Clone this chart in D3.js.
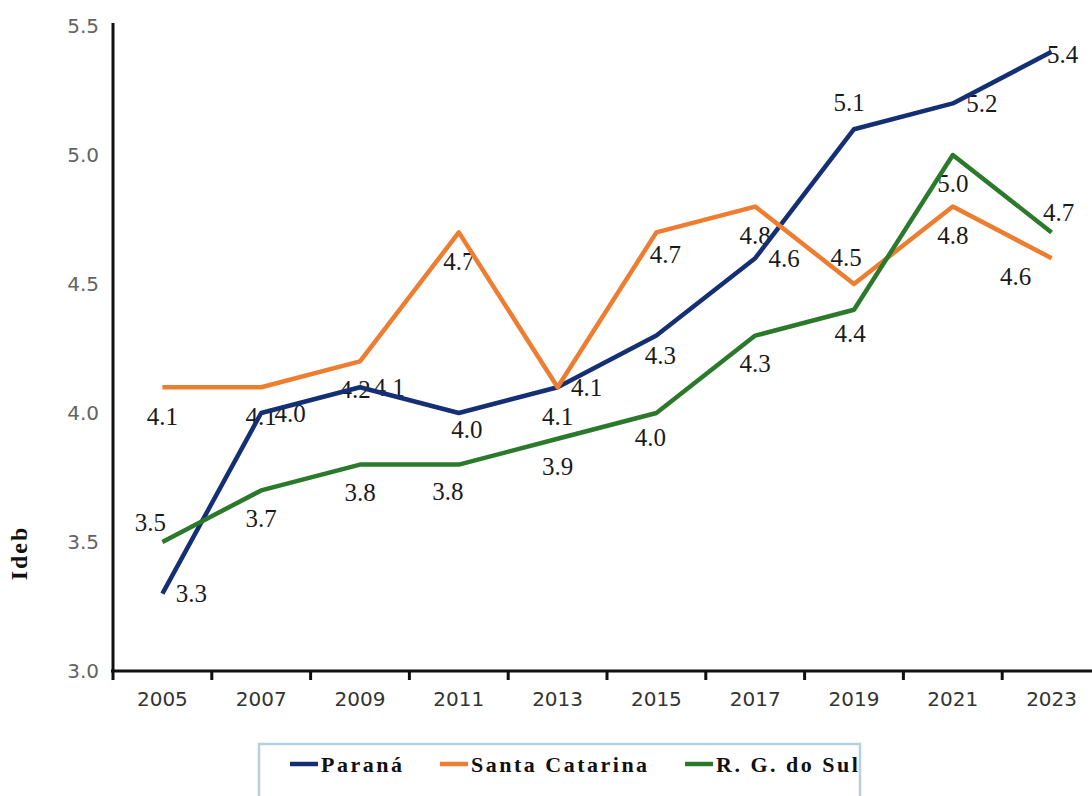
<!DOCTYPE html>
<html>
<head>
<meta charset="utf-8">
<script src="https://cdn.jsdelivr.net/npm/d3@7"></script>
<style>
  body { margin: 0; background: #fff; }
  svg { display: block; }
  .serif { font-family: "Liberation Serif", "Times New Roman", Times, serif; }
  .sans { font-family: "DejaVu Sans", Verdana, sans-serif; }
</style>
</head>
<body>
<svg id="chart" width="1092" height="796"></svg>
<script>
// Ideb by state, 2005–2023
const years = ["2005", "2007", "2009", "2011", "2013", "2015", "2017", "2019", "2021", "2023"];
const parana = [3.3, 4.0, 4.1, 4.0, 4.1, 4.3, 4.6, 5.1, 5.2, 5.4];
const santaCatarina = [4.1, 4.1, 4.2, 4.7, 4.1, 4.7, 4.8, 4.5, 4.8, 4.6];
const rgDoSul = [3.5, 3.7, 3.8, 3.8, 3.9, 4.0, 4.3, 4.4, 5.0, 4.7];
const yTicks = [3.0, 3.5, 4.0, 4.5, 5.0, 5.5];
const seriesNames = ["Paraná", "Santa Catarina", "R. G. do Sul"];
const yTitle = "Ideb";

const colors = ["#142f74", "#ed7d31", "#2b7a2b"];

// default label placement per series (dx, dy from the point) and per-point adjustments
const labelDefault = [[29, 0], [0, 29], [0, 28]];
const labelNudge = {
  "0-2011": [8, 16], "0-2015": [4, 20], "0-2019": [-5, -27], "0-2023": [11, 3],
  "1-2015": [9, 22], "1-2019": [-8, -27], "1-2023": [-36, 18], "1-2009": [-5, 28],
  "2-2005": [-12, -20], "2-2011": [-11, 27], "2-2015": [-6, 24], "2-2019": [-4, 24], "2-2023": [7, -20]
};

const series = [parana, santaCatarina, rgDoSul].map((vals, i) => ({
  name: seriesNames[i],
  color: colors[i],
  points: vals.map((v, j) => ({ year: years[j], value: v }))
}));

const svg = d3.select("#chart");
const plotLeft = 113, plotRight = 1101, plotTop = 26, plotBottom = 671;

const x = d3.scaleBand().domain(years).range([plotLeft, plotRight]);
const y = d3.scaleLinear().domain([3.0, 5.5]).range([plotBottom, plotTop]);
const cx = d => x(d) + x.bandwidth() / 2;

// y axis
const yAxis = svg.append("g")
  .attr("transform", `translate(${plotLeft},0)`)
  .call(d3.axisLeft(y).tickValues(yTicks).tickSize(0).tickPadding(14).tickFormat(d3.format(".1f")));
yAxis.select(".domain").remove();
yAxis.selectAll("text")
  .attr("class", "sans")
  .attr("font-family", null)
  .attr("font-size", 20)
  .attr("fill", "#636363");
svg.append("line")
  .attr("x1", plotLeft).attr("x2", plotLeft)
  .attr("y1", plotTop - 3).attr("y2", plotBottom + 1)
  .attr("stroke", "#111").attr("stroke-width", 3);

// x axis
const xAxis = svg.append("g")
  .attr("transform", `translate(0,${plotBottom})`)
  .call(d3.axisBottom(x).tickSize(0).tickPadding(21));
xAxis.select(".domain").remove();
xAxis.attr("font-family", null);
xAxis.selectAll("text")
  .attr("class", "sans")
  .attr("font-size", 20)
  .attr("fill", "#333");
yAxis.attr("font-family", null);
svg.append("line")
  .attr("x1", plotLeft - 2).attr("x2", plotRight)
  .attr("y1", plotBottom).attr("y2", plotBottom)
  .attr("stroke", "#111").attr("stroke-width", 3);
svg.append("g").selectAll("line")
  .data(years.map(d => x(d)).concat([plotRight]))
  .join("line")
  .attr("x1", d => d).attr("x2", d => d)
  .attr("y1", plotBottom).attr("y2", plotBottom + 9)
  .attr("stroke", "#111").attr("stroke-width", 3);

// y title
svg.append("text")
  .attr("class", "serif")
  .attr("transform", `translate(27,553) rotate(-90)`)
  .attr("text-anchor", "middle")
  .attr("font-weight", "bold")
  .attr("font-size", 24)
  .attr("letter-spacing", 2)
  .attr("fill", "#111")
  .text(yTitle);

// data labels (drawn beneath the lines)
const labels = svg.append("g");
[1, 2, 0].forEach(i => {
  const s = series[i];
  labels.selectAll(null)
    .data(s.points)
    .join("text")
    .attr("class", "serif")
    .attr("x", d => cx(d.year) + (labelNudge[i + "-" + d.year] || labelDefault[i])[0])
    .attr("y", d => y(d.value) + (labelNudge[i + "-" + d.year] || labelDefault[i])[1])
    .attr("text-anchor", "middle")
    .attr("dominant-baseline", "central")
    .attr("font-size", 25)
    .attr("fill", "#1a1a1a")
    .text(d => d3.format(".1f")(d.value));
});

// lines
const line = d3.line().x(d => cx(d.year)).y(d => y(d.value));
svg.append("g").selectAll("path")
  .data(series)
  .join("path")
  .attr("d", d => line(d.points))
  .attr("fill", "none")
  .attr("stroke", d => d.color)
  .attr("stroke-width", 4.5)
  .attr("stroke-linejoin", "round");

// legend
const legend = svg.append("g");
legend.append("rect")
  .attr("x", 259).attr("y", 744)
  .attr("width", 601).attr("height", 80)
  .attr("fill", "#fff")
  .attr("stroke", "#b7d0e0").attr("stroke-width", 2.5);
const legendX = [290, 440, 685];
series.forEach((s, i) => {
  legend.append("line")
    .attr("x1", legendX[i]).attr("x2", legendX[i] + 28)
    .attr("y1", 764).attr("y2", 764)
    .attr("stroke", s.color).attr("stroke-width", 4.5);
  legend.append("text")
    .attr("class", "serif")
    .attr("x", legendX[i] + 31).attr("y", 764)
    .attr("dominant-baseline", "central")
    .attr("font-weight", "bold")
    .attr("font-size", 22)
    .attr("letter-spacing", 2.5)
    .attr("fill", "#111")
    .text(s.name);
});
</script>
</body>
</html>
